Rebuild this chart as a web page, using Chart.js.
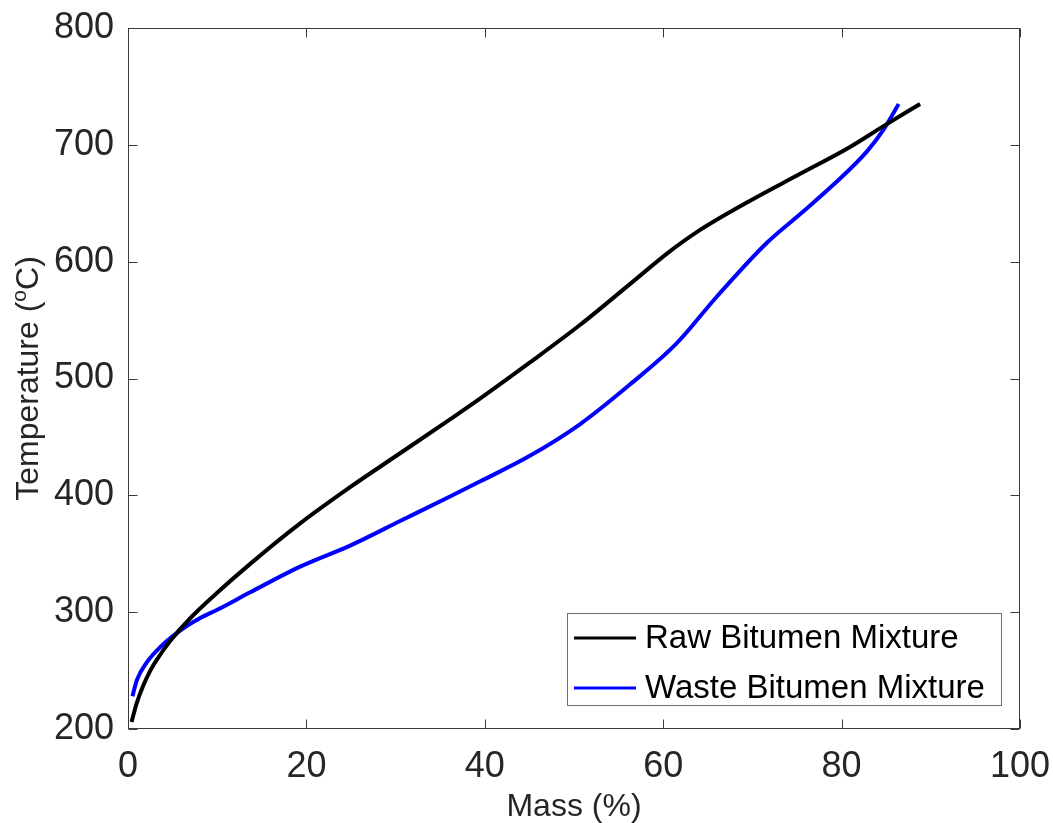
<!DOCTYPE html>
<html>
<head>
<meta charset="utf-8">
<script src="https://cdn.jsdelivr.net/npm/chart.js@4.4.1/dist/chart.umd.min.js"></script>
<style>
  html, body { margin: 0; padding: 0; background: #ffffff; }
  #wrap { width: 1053px; height: 823px; }
</style>
</head>
<body>
<div id="wrap"><canvas id="massChart" width="1053" height="823"></canvas></div>
<script>
// Values
const rawMass = [0.4, 0.97, 1.7, 2.5, 3.2, 4.7, 7.0, 9.9, 13.8, 19.3, 24.9, 30.5, 36.1, 39.5, 45.1, 50.7, 56.3, 60.6, 64.1, 69.7, 75.3, 80.9, 84.7, 88.8];
const rawTemp = [206, 222, 237, 250, 259, 275, 295, 316, 342, 376, 407, 436, 465, 483, 514, 546, 581, 608, 627, 652, 675, 698, 716, 735];

const wasteMass = [0.5, 1.0, 2.1, 3.6, 5.8, 8.1, 10.0, 13.7, 19.3, 24.9, 30.5, 36.1, 39.5, 45.1, 50.7, 56.3, 61.5, 66.0, 71.6, 75.4, 79.1, 82.8, 84.7, 86.4];
const wasteTemp = [228, 242, 257, 270, 284, 295, 302, 317, 339, 357, 378, 399, 412, 434, 461, 495, 530, 570, 616, 641, 666, 694, 713, 735];

const xTicks = [0, 20, 40, 60, 80, 100];
const yTicks = [200, 300, 400, 500, 600, 700, 800];
const seriesLabels = ['Raw Bitumen Mixture', 'Waste Bitumen Mixture'];
const seriesColors = ['#000000', '#0000ff'];

const FONT = '"Liberation Sans", Arial, Helvetica, sans-serif';
const TEXT = '#262626';
const AXIS = '#3a3a3a';

function toPoints(xs, ys) {
  return xs.map((x, i) => ({ x: x, y: ys[i] }));
}

// box round the plot, with inward ticks on all four sides (MATLAB style)
const boxPlugin = {
  id: 'boxPlugin',
  afterDatasetsDraw(chart) {
    const { ctx, chartArea } = chart;
    const xs = chart.scales.x;
    const ys = chart.scales.y;
    const L = Math.round(chartArea.left) + 0.5;
    const R = Math.round(chartArea.right) - 0.5;
    const T = Math.round(chartArea.top) + 0.5;
    const B = Math.round(chartArea.bottom) - 0.5;
    const tick = 9;
    ctx.save();
    ctx.strokeStyle = AXIS;
    ctx.lineWidth = 1;
    ctx.strokeRect(L, T, R - L, B - T);
    ctx.beginPath();
    xTicks.forEach(v => {
      const px = Math.round(xs.getPixelForValue(v)) + 0.5;
      ctx.moveTo(px, B); ctx.lineTo(px, B - tick);
      ctx.moveTo(px, T); ctx.lineTo(px, T + tick);
    });
    yTicks.forEach(v => {
      const py = Math.round(ys.getPixelForValue(v)) + 0.5;
      ctx.moveTo(L, py); ctx.lineTo(L + tick, py);
      ctx.moveTo(R, py); ctx.lineTo(R - tick, py);
    });
    ctx.stroke();
    ctx.restore();
  }
};

// y title with a superscript "o"
const yTitlePlugin = {
  id: 'yTitlePlugin',
  afterDraw(chart) {
    const { ctx, chartArea } = chart;
    const size = 32;
    const supSize = 21;
    const partA = 'Temperature (';
    const partSup = 'o';
    const partB = 'C)';
    ctx.save();
    ctx.fillStyle = TEXT;
    ctx.font = size + 'px ' + FONT;
    const wA = ctx.measureText(partA).width;
    const wB = ctx.measureText(partB).width;
    ctx.font = supSize + 'px ' + FONT;
    const wS = ctx.measureText(partSup).width;
    const total = wA + wS + wB;
    const cy = (chartArea.top + chartArea.bottom) / 2;
    ctx.translate(38, cy);
    ctx.rotate(-Math.PI / 2);
    ctx.textBaseline = 'alphabetic';
    ctx.textAlign = 'left';
    let x = -total / 2;
    ctx.font = size + 'px ' + FONT;
    ctx.fillText(partA, x, 0);
    x += wA;
    ctx.font = supSize + 'px ' + FONT;
    ctx.fillText(partSup, x, -12);
    x += wS;
    ctx.font = size + 'px ' + FONT;
    ctx.fillText(partB, x, 0);
    ctx.restore();
  }
};

// legend box inside the lower right corner of the plot
const legendPlugin = {
  id: 'legendPlugin',
  afterDraw(chart) {
    const { ctx, chartArea } = chart;
    const size = 33;
    ctx.save();
    ctx.font = size + 'px ' + FONT;
    const textW = Math.max(...chart.data.datasets.map(d => ctx.measureText(d.label).width));
    const padL = 7, lineLen = 62, gap = 9, padR = 16;
    const w = Math.round(padL + lineLen + gap + textW + padR);
    const h = 92;
    const right = Math.round(chartArea.right) - 19;
    const bottom = Math.round(chartArea.bottom) - 24;
    const left = right - w;
    const top = bottom - h;
    ctx.fillStyle = '#ffffff';
    ctx.fillRect(left, top, w, h);
    ctx.strokeStyle = '#6e6e6e';
    ctx.lineWidth = 1;
    ctx.strokeRect(left + 0.5, top + 0.5, w, h);
    chart.data.datasets.forEach((d, i) => {
      const cy = top + 25 + i * 50;
      ctx.strokeStyle = d.borderColor;
      ctx.lineWidth = 3;
      ctx.beginPath();
      ctx.moveTo(left + padL, cy);
      ctx.lineTo(left + padL + lineLen, cy);
      ctx.stroke();
      ctx.fillStyle = '#000000';
      ctx.textBaseline = 'middle';
      ctx.textAlign = 'left';
      ctx.fillText(d.label, left + padL + lineLen + gap, cy + 1);
    });
    ctx.restore();
  }
};

const ctx = document.getElementById('massChart').getContext('2d');
const massChart = new Chart(ctx, {
  type: 'scatter',
  data: {
    datasets: [
      {
        label: seriesLabels[0],
        data: toPoints(rawMass, rawTemp),
        borderColor: seriesColors[0],
        backgroundColor: seriesColors[0],
        showLine: true,
        borderWidth: 4,
        pointRadius: 0,
        cubicInterpolationMode: 'monotone'
      },
      {
        label: seriesLabels[1],
        data: toPoints(wasteMass, wasteTemp),
        borderColor: seriesColors[1],
        backgroundColor: seriesColors[1],
        showLine: true,
        borderWidth: 4,
        pointRadius: 0,
        cubicInterpolationMode: 'monotone'
      }
    ]
  },
  options: {
    responsive: false,
    animation: false,
    devicePixelRatio: 1,
    layout: {
      padding: { left: 0, right: 33, top: 28, bottom: 0 }
    },
    plugins: {
      legend: { display: false },
      tooltip: { enabled: false }
    },
    scales: {
      x: {
        type: 'linear',
        min: 0,
        max: 100,
        afterBuildTicks: s => { s.ticks = xTicks.map(v => ({ value: v })); },
        afterFit: s => {
          s.height = 94;
          s.paddingLeft = 0; s.paddingRight = 0;
          s.paddingTop = 0; s.paddingBottom = 0;
        },
        grid: { display: false, drawTicks: false },
        border: { display: false },
        ticks: {
          color: TEXT,
          padding: 16,
          maxRotation: 0,
          font: { family: FONT, size: 36 }
        },
        title: {
          display: true,
          text: 'Mass (%)',
          color: TEXT,
          padding: 0,
          font: { family: FONT, size: 32, lineHeight: 1 }
        }
      },
      y: {
        type: 'linear',
        min: 200,
        max: 800,
        afterBuildTicks: s => { s.ticks = yTicks.map(v => ({ value: v })); },
        afterFit: s => {
          s.width = 128;
          s.paddingLeft = 0; s.paddingRight = 0;
          s.paddingTop = 0; s.paddingBottom = 0;
        },
        grid: { display: false, drawTicks: false },
        border: { display: false },
        ticks: {
          color: TEXT,
          padding: 14,
          font: { family: FONT, size: 36 }
        }
      }
    }
  },
  plugins: [boxPlugin, yTitlePlugin, legendPlugin]
});
</script>
</body>
</html>
